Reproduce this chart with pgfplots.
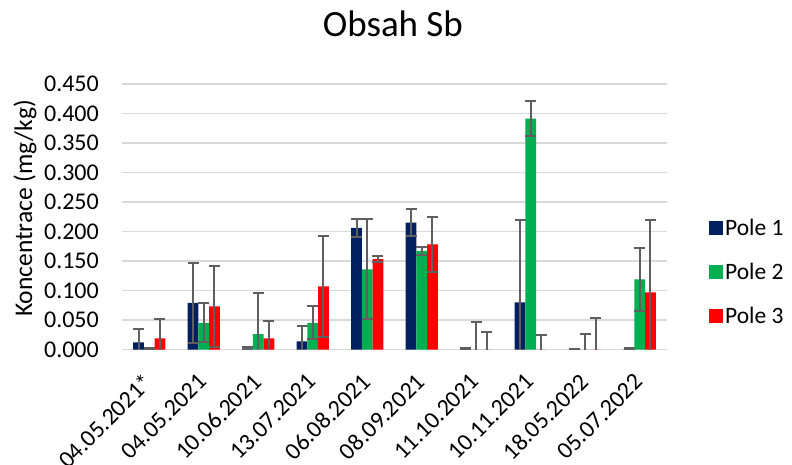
\documentclass[border=0pt]{standalone}
\usepackage{pgfplots}
\usepackage{pgfplotstable}
\pgfplotsset{compat=1.18}
\usepackage{fontspec}
\setmainfont{Carlito}
\definecolor{pA}{HTML}{002060}
\definecolor{pB}{HTML}{00B050}
\definecolor{pC}{HTML}{FF0000}
\definecolor{errgray}{HTML}{5F5F5F}
\definecolor{gridgray}{HTML}{D9D9D9}

\pgfplotstableread{
x p1 e1 p2 e2 p3 e3
0 0.012 0.022 0.002 0.001 0.019 0.033
1 0.079 0.068 0.045 0.033 0.073 0.068
2 0.002 0.0025 0.026 0.069 0.019 0.030
3 0.0136 0.026 0.045 0.028 0.107 0.085
4 0.206 0.016 0.136 0.085 0.153 0.005
5 0.215 0.023 0.167 0.006 0.178 0.046
6 0.001 0.001 0.000 0.046 0.000 0.029
7 0.080 0.139 0.3915 0.029 0.000 0.025
8 0.0005 0.0005 0.000 0.026 0.000 0.053
9 0.001 0.001 0.119 0.053 0.097 0.122
}\datatab

\begin{document}
\begin{tikzpicture}
\begin{axis}[
  at={(122pt,114.5pt)}, anchor=south west,
  scale only axis, width=545pt, height=265.5pt,
  ybar=0pt, bar width=10.7pt,
  xmin=-0.5, xmax=9.5, ymin=0, ymax=0.45,
  xtick={0,...,9},
  xticklabels={04.05.2021*,04.05.2021,10.06.2021,13.07.2021,06.08.2021,08.09.2021,11.10.2021,10.11.2021,18.05.2022,05.07.2022},
  ytick={0,0.05,...,0.451},
  /pgf/number format/assume math mode=true,
  /pgf/number format/fixed,
  /pgf/number format/fixed zerofill,
  /pgf/number format/precision=3,
  yticklabel style={font=\fontsize{24}{28}\selectfont, inner sep=0pt, xshift=-23pt},
  xticklabel style={font=\fontsize{24}{28}\selectfont, inner sep=0pt, xshift=-1pt, yshift=-24pt, rotate=45, anchor=east},
  tick style={draw=none},
  axis line style={draw=none},
  ymajorgrids,
  major grid style={gridgray, line width=1.4pt},
  title={Obsah Sb},
  title style={at={(axis description cs:0.497,1)}, anchor=base, yshift=42pt, inner sep=0pt, font=\fontsize{37}{40}\selectfont},
  ylabel={Koncentrace (mg/kg)},
  ylabel style={at={(axis description cs:-0.178,0.531)}, anchor=center, font=\fontsize{25.5}{30}\selectfont},
  legend style={at={(axis description cs:1.077,0.292)}, anchor=west, draw=none, fill=none, inner sep=0pt,
    font=\fontsize{23.5}{28}\selectfont, row sep=22.5pt},
  legend cell align=left,
  legend image code/.code={\fill[#1] (0pt,-7pt) rectangle (14pt,7pt);},
  error bars/y dir=both, error bars/y explicit,
  error bars/error bar style={line width=2pt, color=errgray},
  error bars/error mark options={rotate=90, mark size=5.5pt, line width=2pt, color=errgray},
]
\addplot[fill=pA, draw=none] table[x=x, y=p1, y error=e1] {\datatab};
\addplot[fill=pB, draw=none] table[x=x, y=p2, y error=e2] {\datatab};
\addplot[fill=pC, draw=none] table[x=x, y=p3, y error=e3] {\datatab};
\legend{Pole 1, Pole 2, Pole 3}
\end{axis}
\pgfresetboundingbox
\path[use as bounding box] (0pt,0pt) rectangle (792pt,464pt);
\end{tikzpicture}
\end{document}
